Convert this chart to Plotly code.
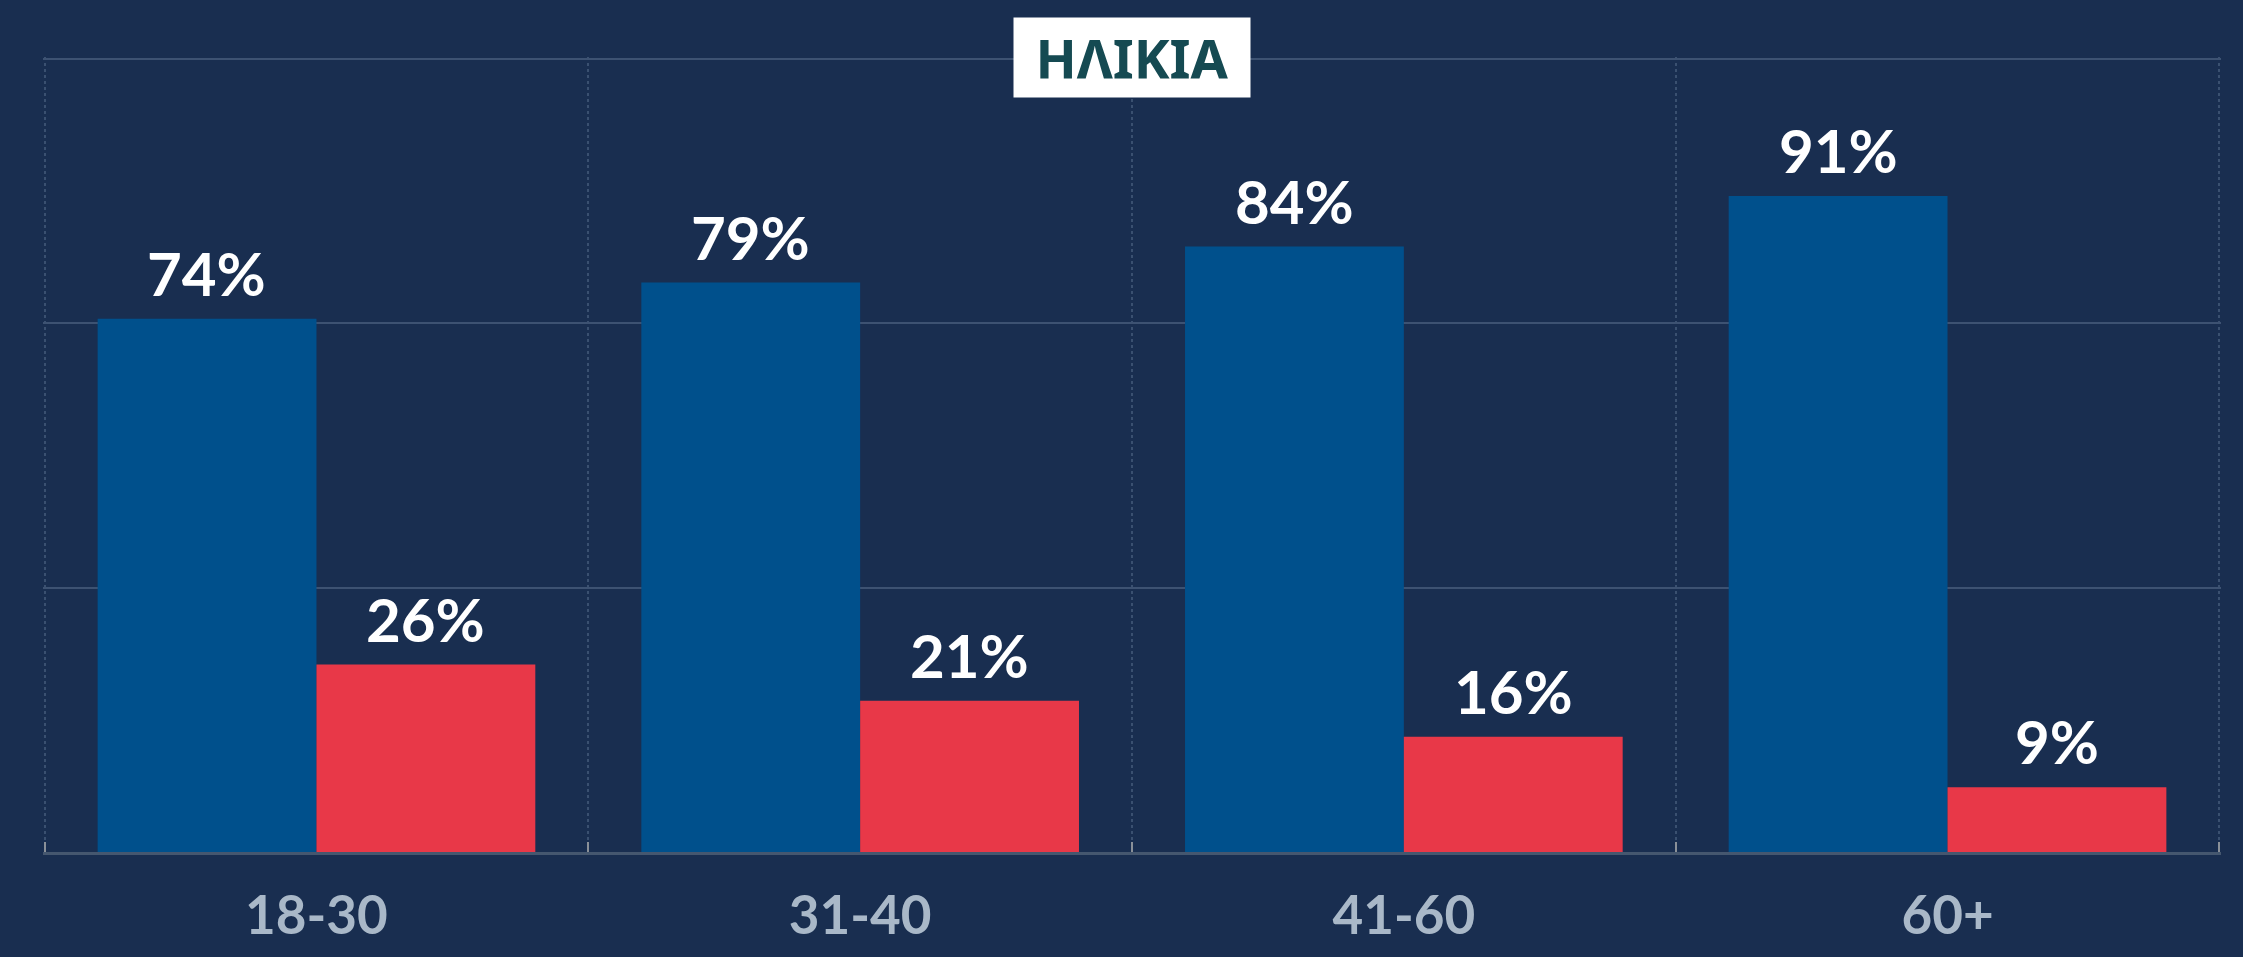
import plotly.graph_objects as go

# age groups and the two shares (%)
age_groups = ["18-30", "31-40", "41-60", "60+"]
yes_share = [74, 79, 84, 91]
no_share = [26, 21, 16, 9]

logo_text = "ΗΛΙΚΙΑ"

blue = "#00508c"
red = "#e83848"
bg = "#192e50"

fig = go.Figure()

fig.add_trace(go.Bar(x=age_groups, y=yes_share,
                     marker=dict(color=blue, line=dict(width=0))))
fig.add_trace(go.Bar(x=age_groups, y=no_share,
                     marker=dict(color=red, line=dict(width=0))))

# value labels above the bars (annotations so the gap can be tuned)
half_bar = 109.5
label_font = dict(family="Lato", size=60, color="white", weight="bold")
for cat, v in zip(age_groups, yes_share):
    fig.add_annotation(x=cat, y=v, text=f"{v}%", showarrow=False,
                       xshift=-half_bar, yanchor="bottom", yshift=8,
                       font=label_font)
for cat, v in zip(age_groups, no_share):
    fig.add_annotation(x=cat, y=v, text=f"{v}%", showarrow=False,
                       xshift=half_bar, yanchor="bottom", yshift=8,
                       font=label_font)

fig.update_layout(
    width=2243, height=957,
    barmode="group", bargap=0.195, bargroupgap=0,
    showlegend=False,
    paper_bgcolor=bg, plot_bgcolor=bg,
    margin=dict(l=43, r=22, t=57, b=103),
)

fig.update_xaxes(
    range=[-0.503, 3.503],
    tickson="boundaries",
    showgrid=True, gridcolor="#3a5070", griddash="dot", gridwidth=2,
    showline=True, linecolor="#45576f", linewidth=3,
    ticks="inside", ticklen=10, tickwidth=2, tickcolor="#8a9098",
    tickfont=dict(family="Lato", size=53, color="#a9b8c8", weight="bold"),
    ticklabelstandoff=15,
)

fig.update_yaxes(
    range=[0, 110.3],
    tickvals=[0, 110 / 3, 220 / 3, 110],
    showticklabels=False,
    showgrid=True, gridcolor="#3d5272", gridwidth=2,
    zeroline=False,
)

fig.add_annotation(
    xref="paper", yref="paper", x=0.5, y=1,
    xanchor="center", yanchor="middle",
    text=logo_text, showarrow=False,
    font=dict(family="Noto Sans", size=54, color="#154a52", weight="bold"),
    bgcolor="white", width=230, height=73, borderpad=3,
)

fig.write_html("out.html", config={"displayModeBar": False},
               post_script="document.body.style.margin='0';")
